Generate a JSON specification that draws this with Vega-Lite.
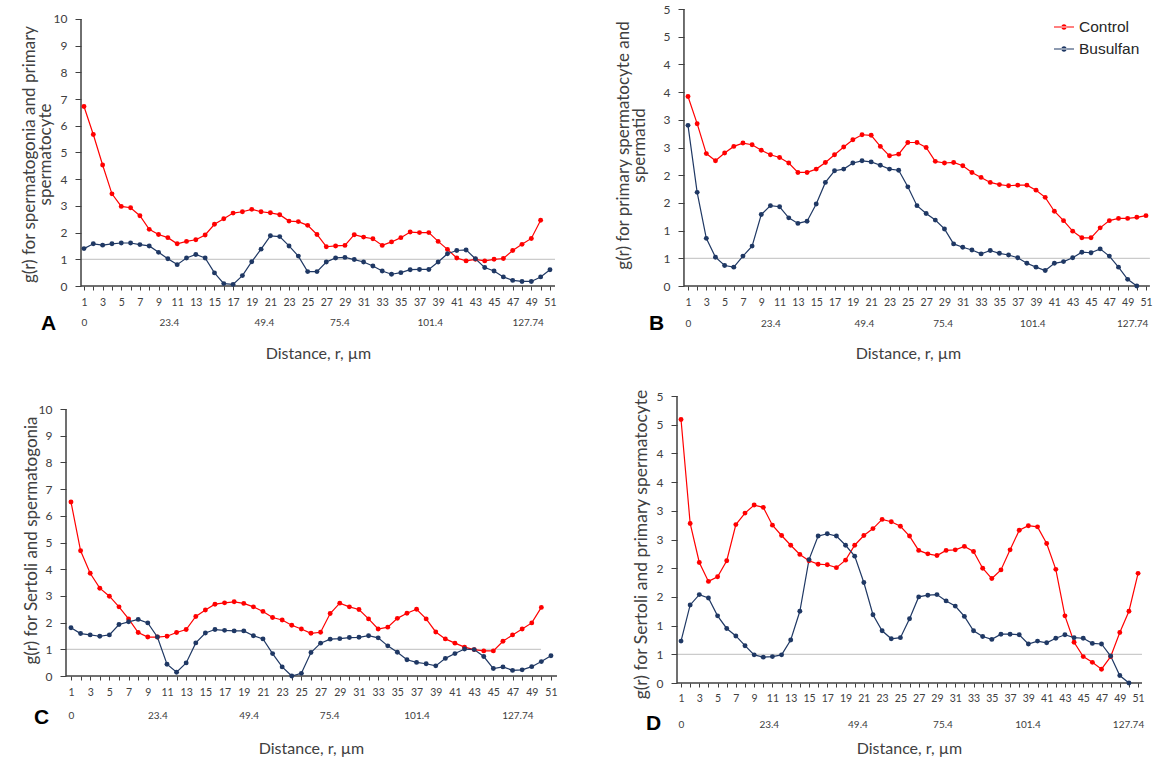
{
"$schema": "https://vega.github.io/schema/vega-lite/v6.json",
"background": "white",
"padding": {"left": 20, "top": 3, "right": 2, "bottom": 2},
"datasets": {
"A": [{"n":1,"Control":6.72,"Busulfan":1.40},{"n":2,"Control":5.67,"Busulfan":1.58},{"n":3,"Control":4.53,"Busulfan":1.53},{"n":4,"Control":3.45,"Busulfan":1.58},{"n":5,"Control":2.98,"Busulfan":1.61},{"n":6,"Control":2.93,"Busulfan":1.61},{"n":7,"Control":2.63,"Busulfan":1.55},{"n":8,"Control":2.12,"Busulfan":1.50},{"n":9,"Control":1.93,"Busulfan":1.26},{"n":10,"Control":1.81,"Busulfan":1.02},{"n":11,"Control":1.58,"Busulfan":0.80},{"n":12,"Control":1.67,"Busulfan":1.05},{"n":13,"Control":1.73,"Busulfan":1.18},{"n":14,"Control":1.91,"Busulfan":1.05},{"n":15,"Control":2.31,"Busulfan":0.49},{"n":16,"Control":2.52,"Busulfan":0.09},{"n":17,"Control":2.73,"Busulfan":0.06},{"n":18,"Control":2.78,"Busulfan":0.39},{"n":19,"Control":2.87,"Busulfan":0.91},{"n":20,"Control":2.78,"Busulfan":1.38},{"n":21,"Control":2.74,"Busulfan":1.88},{"n":22,"Control":2.67,"Busulfan":1.85},{"n":23,"Control":2.43,"Busulfan":1.50},{"n":24,"Control":2.41,"Busulfan":1.12},{"n":25,"Control":2.27,"Busulfan":0.54},{"n":26,"Control":1.93,"Busulfan":0.54},{"n":27,"Control":1.47,"Busulfan":0.90},{"n":28,"Control":1.50,"Busulfan":1.05},{"n":29,"Control":1.52,"Busulfan":1.07},{"n":30,"Control":1.92,"Busulfan":0.99},{"n":31,"Control":1.83,"Busulfan":0.90},{"n":32,"Control":1.77,"Busulfan":0.75},{"n":33,"Control":1.52,"Busulfan":0.56},{"n":34,"Control":1.65,"Busulfan":0.44},{"n":35,"Control":1.81,"Busulfan":0.50},{"n":36,"Control":2.02,"Busulfan":0.61},{"n":37,"Control":2.00,"Busulfan":0.62},{"n":38,"Control":2.00,"Busulfan":0.62},{"n":39,"Control":1.67,"Busulfan":0.90},{"n":40,"Control":1.37,"Busulfan":1.21},{"n":41,"Control":1.05,"Busulfan":1.33},{"n":42,"Control":0.94,"Busulfan":1.35},{"n":43,"Control":1.00,"Busulfan":1.02},{"n":44,"Control":0.94,"Busulfan":0.69},{"n":45,"Control":1.00,"Busulfan":0.56},{"n":46,"Control":1.03,"Busulfan":0.34},{"n":47,"Control":1.33,"Busulfan":0.21},{"n":48,"Control":1.56,"Busulfan":0.17},{"n":49,"Control":1.78,"Busulfan":0.17},{"n":50,"Control":2.46,"Busulfan":0.34},{"n":51,"Control":null,"Busulfan":0.61}],
"B": [{"n":1,"Control":3.42,"Busulfan":2.90},{"n":2,"Control":2.93,"Busulfan":1.69},{"n":3,"Control":2.39,"Busulfan":0.86},{"n":4,"Control":2.26,"Busulfan":0.52},{"n":5,"Control":2.40,"Busulfan":0.37},{"n":6,"Control":2.52,"Busulfan":0.34},{"n":7,"Control":2.58,"Busulfan":0.54},{"n":8,"Control":2.55,"Busulfan":0.72},{"n":9,"Control":2.45,"Busulfan":1.29},{"n":10,"Control":2.37,"Busulfan":1.45},{"n":11,"Control":2.32,"Busulfan":1.43},{"n":12,"Control":2.22,"Busulfan":1.23},{"n":13,"Control":2.05,"Busulfan":1.13},{"n":14,"Control":2.05,"Busulfan":1.17},{"n":15,"Control":2.11,"Busulfan":1.48},{"n":16,"Control":2.23,"Busulfan":1.87},{"n":17,"Control":2.37,"Busulfan":2.08},{"n":18,"Control":2.51,"Busulfan":2.11},{"n":19,"Control":2.64,"Busulfan":2.22},{"n":20,"Control":2.73,"Busulfan":2.26},{"n":21,"Control":2.72,"Busulfan":2.24},{"n":22,"Control":2.52,"Busulfan":2.18},{"n":23,"Control":2.35,"Busulfan":2.11},{"n":24,"Control":2.38,"Busulfan":2.09},{"n":25,"Control":2.59,"Busulfan":1.79},{"n":26,"Control":2.59,"Busulfan":1.45},{"n":27,"Control":2.50,"Busulfan":1.31},{"n":28,"Control":2.25,"Busulfan":1.19},{"n":29,"Control":2.22,"Busulfan":1.03},{"n":30,"Control":2.23,"Busulfan":0.76},{"n":31,"Control":2.17,"Busulfan":0.70},{"n":32,"Control":2.05,"Busulfan":0.65},{"n":33,"Control":1.96,"Busulfan":0.58},{"n":34,"Control":1.87,"Busulfan":0.64},{"n":35,"Control":1.83,"Busulfan":0.59},{"n":36,"Control":1.81,"Busulfan":0.56},{"n":37,"Control":1.82,"Busulfan":0.51},{"n":38,"Control":1.82,"Busulfan":0.41},{"n":39,"Control":1.73,"Busulfan":0.34},{"n":40,"Control":1.60,"Busulfan":0.28},{"n":41,"Control":1.35,"Busulfan":0.41},{"n":42,"Control":1.18,"Busulfan":0.44},{"n":43,"Control":0.99,"Busulfan":0.51},{"n":44,"Control":0.87,"Busulfan":0.61},{"n":45,"Control":0.87,"Busulfan":0.60},{"n":46,"Control":1.05,"Busulfan":0.67},{"n":47,"Control":1.18,"Busulfan":0.54},{"n":48,"Control":1.22,"Busulfan":0.34},{"n":49,"Control":1.22,"Busulfan":0.12},{"n":50,"Control":1.24,"Busulfan":0.00},{"n":51,"Control":1.27,"Busulfan":null}],
"C": [{"n":1,"Control":6.52,"Busulfan":1.81},{"n":2,"Control":4.69,"Busulfan":1.59},{"n":3,"Control":3.85,"Busulfan":1.54},{"n":4,"Control":3.29,"Busulfan":1.49},{"n":5,"Control":2.99,"Busulfan":1.54},{"n":6,"Control":2.59,"Busulfan":1.93},{"n":7,"Control":2.14,"Busulfan":2.03},{"n":8,"Control":1.63,"Busulfan":2.12},{"n":9,"Control":1.46,"Busulfan":1.99},{"n":10,"Control":1.46,"Busulfan":1.46},{"n":11,"Control":1.49,"Busulfan":0.44},{"n":12,"Control":1.63,"Busulfan":0.14},{"n":13,"Control":1.74,"Busulfan":0.49},{"n":14,"Control":2.23,"Busulfan":1.24},{"n":15,"Control":2.47,"Busulfan":1.61},{"n":16,"Control":2.69,"Busulfan":1.74},{"n":17,"Control":2.74,"Busulfan":1.71},{"n":18,"Control":2.78,"Busulfan":1.69},{"n":19,"Control":2.72,"Busulfan":1.69},{"n":20,"Control":2.59,"Busulfan":1.51},{"n":21,"Control":2.42,"Busulfan":1.39},{"n":22,"Control":2.19,"Busulfan":0.84},{"n":23,"Control":2.10,"Busulfan":0.34},{"n":24,"Control":1.90,"Busulfan":0.00},{"n":25,"Control":1.76,"Busulfan":0.10},{"n":26,"Control":1.60,"Busulfan":0.88},{"n":27,"Control":1.64,"Busulfan":1.23},{"n":28,"Control":2.34,"Busulfan":1.38},{"n":29,"Control":2.73,"Busulfan":1.40},{"n":30,"Control":2.59,"Busulfan":1.44},{"n":31,"Control":2.49,"Busulfan":1.45},{"n":32,"Control":2.14,"Busulfan":1.51},{"n":33,"Control":1.76,"Busulfan":1.43},{"n":34,"Control":1.83,"Busulfan":1.13},{"n":35,"Control":2.16,"Busulfan":0.89},{"n":36,"Control":2.35,"Busulfan":0.61},{"n":37,"Control":2.50,"Busulfan":0.51},{"n":38,"Control":2.14,"Busulfan":0.46},{"n":39,"Control":1.65,"Busulfan":0.38},{"n":40,"Control":1.39,"Busulfan":0.66},{"n":41,"Control":1.23,"Busulfan":0.84},{"n":42,"Control":1.08,"Busulfan":1.01},{"n":43,"Control":0.99,"Busulfan":0.99},{"n":44,"Control":0.94,"Busulfan":0.73},{"n":45,"Control":0.94,"Busulfan":0.28},{"n":46,"Control":1.30,"Busulfan":0.34},{"n":47,"Control":1.54,"Busulfan":0.21},{"n":48,"Control":1.76,"Busulfan":0.23},{"n":49,"Control":1.99,"Busulfan":0.35},{"n":50,"Control":2.57,"Busulfan":0.54},{"n":51,"Control":null,"Busulfan":0.76}],
"D": [{"n":1,"Control":4.59,"Busulfan":0.73},{"n":2,"Control":2.78,"Busulfan":1.36},{"n":3,"Control":2.10,"Busulfan":1.54},{"n":4,"Control":1.77,"Busulfan":1.48},{"n":5,"Control":1.85,"Busulfan":1.17},{"n":6,"Control":2.13,"Busulfan":0.95},{"n":7,"Control":2.76,"Busulfan":0.82},{"n":8,"Control":2.96,"Busulfan":0.65},{"n":9,"Control":3.10,"Busulfan":0.49},{"n":10,"Control":3.06,"Busulfan":0.45},{"n":11,"Control":2.75,"Busulfan":0.46},{"n":12,"Control":2.57,"Busulfan":0.49},{"n":13,"Control":2.40,"Busulfan":0.75},{"n":14,"Control":2.24,"Busulfan":1.25},{"n":15,"Control":2.13,"Busulfan":2.15},{"n":16,"Control":2.07,"Busulfan":2.56},{"n":17,"Control":2.06,"Busulfan":2.60},{"n":18,"Control":2.01,"Busulfan":2.56},{"n":19,"Control":2.14,"Busulfan":2.40},{"n":20,"Control":2.40,"Busulfan":2.21},{"n":21,"Control":2.57,"Busulfan":1.75},{"n":22,"Control":2.69,"Busulfan":1.19},{"n":23,"Control":2.85,"Busulfan":0.91},{"n":24,"Control":2.81,"Busulfan":0.77},{"n":25,"Control":2.73,"Busulfan":0.79},{"n":26,"Control":2.56,"Busulfan":1.12},{"n":27,"Control":2.31,"Busulfan":1.50},{"n":28,"Control":2.25,"Busulfan":1.53},{"n":29,"Control":2.22,"Busulfan":1.54},{"n":30,"Control":2.31,"Busulfan":1.43},{"n":31,"Control":2.32,"Busulfan":1.34},{"n":32,"Control":2.38,"Busulfan":1.16},{"n":33,"Control":2.29,"Busulfan":0.91},{"n":34,"Control":2.00,"Busulfan":0.81},{"n":35,"Control":1.82,"Busulfan":0.76},{"n":36,"Control":1.97,"Busulfan":0.85},{"n":37,"Control":2.32,"Busulfan":0.85},{"n":38,"Control":2.66,"Busulfan":0.84},{"n":39,"Control":2.74,"Busulfan":0.68},{"n":40,"Control":2.72,"Busulfan":0.73},{"n":41,"Control":2.43,"Busulfan":0.70},{"n":42,"Control":1.98,"Busulfan":0.78},{"n":43,"Control":1.17,"Busulfan":0.84},{"n":44,"Control":0.71,"Busulfan":0.79},{"n":45,"Control":0.46,"Busulfan":0.78},{"n":46,"Control":0.36,"Busulfan":0.69},{"n":47,"Control":0.24,"Busulfan":0.68},{"n":48,"Control":0.46,"Busulfan":0.47},{"n":49,"Control":0.88,"Busulfan":0.13},{"n":50,"Control":1.25,"Busulfan":0.00},{"n":51,"Control":1.91,"Busulfan":null}]
},
"concat": [
{
"width": 489, "height": 277,
"layer": [
{"layer": [
{"data": {"values": [{}]}, "mark": {"type": "rule", "color": "#BFBFBF", "strokeWidth": 1}, "encoding": {"x": {"datum": 0.68, "type": "quantitative"}, "x2": {"datum": 51.54}, "y": {"datum": 1, "type": "quantitative"}}},
{"data": {"values": [{}]}, "mark": {"type": "rule", "color": "#404040", "strokeWidth": 1.5}, "encoding": {"x": {"datum": 0.68, "type": "quantitative"}, "y": {"datum": 0, "type": "quantitative"}, "y2": {"datum": 10}}},
{"data": {"values": [{}]}, "mark": {"type": "rule", "color": "#404040", "strokeWidth": 1.5}, "encoding": {"x": {"datum": 0.68, "type": "quantitative"}, "x2": {"datum": 51.54}, "y": {"datum": 0, "type": "quantitative"}}},
{"data": {"name": "A"}, "transform": [{"fold": ["Control", "Busulfan"], "as": ["series", "g"]}, {"filter": "datum.series == 'Control' && isValid(datum.g)"}], "mark": {"type": "line", "color": "#FF0000", "strokeWidth": 1.2},
 "encoding": {
  "x": {"field": "n", "type": "quantitative", "scale": {"domain": [-0.93, 51.54], "nice": false, "zero": false},
   "axis": {"values": [1,2,3,4,5,6,7,8,9,10,11,12,13,14,15,16,17,18,19,20,21,22,23,24,25,26,27,28,29,30,31,32,33,34,35,36,37,38,39,40,41,42,43,44,45,46,47,48,49,50,51], "tickCount": 200, "labelExpr": "datum.value % 2 == 1 ? '' + datum.value : ''", "tickSize": 4, "labelPadding": 7, "labelFontSize": 10.5, "labelOverlap": false, "labelFlush": false, "domain": false, "grid": false,
    "title": "Distance, r, µm", "titleX": 252, "titleY": 67, "titleAlign": "center", "titleBaseline": "middle", "titleFontSize": 16}},
  "y": {"field": "g", "type": "quantitative", "scale": {"domain": [0, 10.37], "nice": false, "zero": true},
   "axis": {"values": [0,1,2,3,4,5,6,7,8,9,10], "tickCount": 200, "labelExpr": "'' + datum.value", "offset": -15, "labelOverlap": false, "domain": false, "grid": false, "tickSize": 6, "labelPadding": 8, "labelFontSize": 12,
    "title": ["g(r) for spermatogonia and primary", "spermatocyte"], "titleX": -60, "titleY": 145, "titleAlign": "center", "titleBaseline": "top", "titleFontSize": 17, "titleLineHeight": 16}}}},
{"data": {"name": "A"}, "transform": [{"fold": ["Control", "Busulfan"], "as": ["series", "g"]}, {"filter": "datum.series == 'Busulfan' && isValid(datum.g)"}], "mark": {"type": "line", "color": "#1F3864", "strokeWidth": 1.2},
 "encoding": {"x": {"field": "n", "type": "quantitative"}, "y": {"field": "g", "type": "quantitative"}}},
{"data": {"name": "A"}, "transform": [{"fold": ["Control", "Busulfan"], "as": ["series", "g"]}, {"filter": "isValid(datum.g)"}], "mark": {"type": "point", "filled": true, "size": 24, "opacity": 1},
 "encoding": {"x": {"field": "n", "type": "quantitative"}, "y": {"field": "g", "type": "quantitative"},
  "color": {"field": "series", "type": "nominal", "scale": {"domain": ["Control", "Busulfan"], "range": ["#FF0000", "#1F3864"]}, "legend": null}}}
]},
{"data": {"values": [{"p": 1}, {"p": 10.1}, {"p": 20.3}, {"p": 28.4}, {"p": 38.1}, {"p": 48.6}]}, "mark": {"type": "point", "opacity": 0},
 "encoding": {"x": {"field": "p", "type": "quantitative", "scale": {"domain": [-0.93, 51.54], "nice": false, "zero": false},
   "axis": {"orient": "bottom", "values": [1, 10.1, 20.3, 28.4, 38.1, 48.6], "tickCount": 200, "labelExpr": "datum.value < 5 ? '0' : datum.value < 15 ? '23.4' : datum.value < 25 ? '49.4' : datum.value < 33 ? '75.4' : datum.value < 44 ? '101.4' : '127.74'", "ticks": false, "domain": false, "grid": false, "labelPadding": 31, "labelFontSize": 10, "labelOverlap": false, "labelFlush": false,
    "title": "A", "titleX": -18, "titleY": 37, "titleAlign": "center", "titleBaseline": "middle", "titleFontSize": 21, "titleFontWeight": "bold", "titleColor": "#000000", "titleFont": "Liberation Sans"}},
  "y": {"datum": 0, "type": "quantitative"}}}
],
"resolve": {"scale": {"x": "independent"}}
},
{
"width": 473, "height": 277,
"layer": [
{"layer": [
{"data": {"values": [{}]}, "mark": {"type": "rule", "color": "#BFBFBF", "strokeWidth": 1}, "encoding": {"x": {"datum": 0.56, "type": "quantitative"}, "x2": {"datum": 51.43}, "y": {"datum": 0.5, "type": "quantitative"}}},
{"data": {"values": [{}]}, "mark": {"type": "rule", "color": "#404040", "strokeWidth": 1.5}, "encoding": {"x": {"datum": 0.56, "type": "quantitative"}, "y": {"datum": 0, "type": "quantitative"}, "y2": {"datum": 5}}},
{"data": {"values": [{}]}, "mark": {"type": "rule", "color": "#404040", "strokeWidth": 1.5}, "encoding": {"x": {"datum": 0.56, "type": "quantitative"}, "x2": {"datum": 51.43}, "y": {"datum": 0, "type": "quantitative"}}},
{"data": {"name": "B"}, "transform": [{"fold": ["Control", "Busulfan"], "as": ["series", "g"]}, {"filter": "datum.series == 'Control' && isValid(datum.g)"}], "mark": {"type": "line", "color": "#FF0000", "strokeWidth": 1.2},
 "encoding": {
  "x": {"field": "n", "type": "quantitative", "scale": {"domain": [-0.20, 51.44], "nice": false, "zero": false},
   "axis": {"values": [1,2,3,4,5,6,7,8,9,10,11,12,13,14,15,16,17,18,19,20,21,22,23,24,25,26,27,28,29,30,31,32,33,34,35,36,37,38,39,40,41,42,43,44,45,46,47,48,49,50,51], "tickCount": 200, "labelExpr": "datum.value % 2 == 1 ? '' + datum.value : ''", "tickSize": 4, "labelPadding": 7, "labelFontSize": 10.5, "labelOverlap": false, "labelFlush": false, "domain": false, "grid": false,
    "title": "Distance, r, µm", "titleX": 231, "titleY": 67, "titleAlign": "center", "titleBaseline": "middle", "titleFontSize": 16}},
  "y": {"field": "g", "type": "quantitative", "scale": {"domain": [0, 5], "nice": false, "zero": true},
   "axis": {"values": [0,0.5,1,1.5,2,2.5,3,3.5,4,4.5,5], "tickCount": 200, "labelExpr": "'' + round(datum.value)", "offset": -7, "labelOverlap": false, "domain": false, "grid": false, "tickSize": 6, "labelPadding": 8, "labelFontSize": 12,
    "title": ["g(r) for primary spermatocyte and", "spermatid"], "titleX": -69, "titleY": 136, "titleAlign": "center", "titleBaseline": "top", "titleFontSize": 17, "titleLineHeight": 16}}}},
{"data": {"name": "B"}, "transform": [{"fold": ["Control", "Busulfan"], "as": ["series", "g"]}, {"filter": "datum.series == 'Busulfan' && isValid(datum.g)"}], "mark": {"type": "line", "color": "#1F3864", "strokeWidth": 1.2},
 "encoding": {"x": {"field": "n", "type": "quantitative"}, "y": {"field": "g", "type": "quantitative"}}},
{"data": {"name": "B"}, "transform": [{"fold": ["Control", "Busulfan"], "as": ["series", "g"]}, {"filter": "isValid(datum.g)"}], "mark": {"type": "point", "filled": true, "size": 24, "opacity": 1},
 "encoding": {"x": {"field": "n", "type": "quantitative"}, "y": {"field": "g", "type": "quantitative"},
  "color": {"field": "series", "type": "nominal", "scale": {"domain": ["Control", "Busulfan"], "range": ["#FF0000", "#1F3864"]},
   "legend": {"orient": "none", "legendX": 377, "legendY": 8, "title": null, "padding": 0, "symbolType": "M-1,-0.06H1V0.06H-1Z M-0.27,0A0.27,0.27,0,1,0,0.27,0A0.27,0.27,0,1,0,-0.27,0Z", "symbolSize": 400, "symbolStrokeWidth": 0, "symbolOpacity": 1, "labelFont": "Liberation Sans", "labelFontSize": 15.5, "labelColor": "#262626", "labelOffset": 5, "rowPadding": 3}}}}
]},
{"data": {"values": [{"p": 1}, {"p": 10.0}, {"p": 20.2}, {"p": 28.8}, {"p": 38.6}, {"p": 49.5}]}, "mark": {"type": "point", "opacity": 0},
 "encoding": {"x": {"field": "p", "type": "quantitative", "scale": {"domain": [-0.20, 51.44], "nice": false, "zero": false},
   "axis": {"orient": "bottom", "values": [1, 10.0, 20.2, 28.8, 38.6, 49.5], "tickCount": 200, "labelExpr": "datum.value < 5 ? '0' : datum.value < 15 ? '23.4' : datum.value < 25 ? '49.4' : datum.value < 33 ? '75.4' : datum.value < 44 ? '101.4' : '127.74'", "ticks": false, "domain": false, "grid": false, "labelPadding": 32, "labelFontSize": 10, "labelOverlap": false, "labelFlush": false,
    "title": "B", "titleX": -21, "titleY": 37, "titleAlign": "center", "titleBaseline": "middle", "titleFontSize": 21, "titleFontWeight": "bold", "titleColor": "#000000", "titleFont": "Liberation Sans"}},
  "y": {"datum": 0, "type": "quantitative"}}}
],
"resolve": {"scale": {"x": "independent"}}
},
{
"width": 491, "height": 280,
"layer": [
{"layer": [
{"data": {"values": [{}]}, "mark": {"type": "rule", "color": "#BFBFBF", "strokeWidth": 1}, "encoding": {"x": {"datum": 0.48, "type": "quantitative"}, "x2": {"datum": 49.96}, "y": {"datum": 1, "type": "quantitative"}}},
{"data": {"values": [{}]}, "mark": {"type": "rule", "color": "#404040", "strokeWidth": 1.5}, "encoding": {"x": {"datum": 0.48, "type": "quantitative"}, "y": {"datum": 0, "type": "quantitative"}, "y2": {"datum": 10}}},
{"data": {"values": [{}]}, "mark": {"type": "rule", "color": "#404040", "strokeWidth": 1.5}, "encoding": {"x": {"datum": 0.48, "type": "quantitative"}, "x2": {"datum": 51.63}, "y": {"datum": 0, "type": "quantitative"}}},
{"data": {"name": "C"}, "transform": [{"fold": ["Control", "Busulfan"], "as": ["series", "g"]}, {"filter": "datum.series == 'Control' && isValid(datum.g)"}], "mark": {"type": "line", "color": "#FF0000", "strokeWidth": 1.2},
 "encoding": {
  "x": {"field": "n", "type": "quantitative", "scale": {"domain": [0.48, 51.63], "nice": false, "zero": false},
   "axis": {"values": [1,2,3,4,5,6,7,8,9,10,11,12,13,14,15,16,17,18,19,20,21,22,23,24,25,26,27,28,29,30,31,32,33,34,35,36,37,38,39,40,41,42,43,44,45,46,47,48,49,50,51], "tickCount": 200, "labelExpr": "datum.value % 2 == 1 ? '' + datum.value : ''", "tickSize": 4, "labelPadding": 7, "labelFontSize": 10.5, "labelOverlap": false, "labelFlush": false, "domain": false, "grid": false,
    "title": "Distance, r, µm", "titleX": 245, "titleY": 72, "titleAlign": "center", "titleBaseline": "middle", "titleFontSize": 16}},
  "y": {"field": "g", "type": "quantitative", "scale": {"domain": [0, 10.49], "nice": false, "zero": true},
   "axis": {"values": [0,1,2,3,4,5,6,7,8,9,10], "tickCount": 200, "labelExpr": "'' + datum.value", "labelOverlap": false, "domain": false, "grid": false, "tickSize": 6, "labelPadding": 8, "labelFontSize": 12,
    "title": "g(r) for Sertoli and spermatogonia", "titleX": -43, "titleY": 144, "titleAlign": "center", "titleBaseline": "top", "titleFontSize": 17}}}},
{"data": {"name": "C"}, "transform": [{"fold": ["Control", "Busulfan"], "as": ["series", "g"]}, {"filter": "datum.series == 'Busulfan' && isValid(datum.g)"}], "mark": {"type": "line", "color": "#1F3864", "strokeWidth": 1.2},
 "encoding": {"x": {"field": "n", "type": "quantitative"}, "y": {"field": "g", "type": "quantitative"}}},
{"data": {"name": "C"}, "transform": [{"fold": ["Control", "Busulfan"], "as": ["series", "g"]}, {"filter": "isValid(datum.g)"}], "mark": {"type": "point", "filled": true, "size": 24, "opacity": 1},
 "encoding": {"x": {"field": "n", "type": "quantitative"}, "y": {"field": "g", "type": "quantitative"},
  "color": {"field": "series", "type": "nominal", "scale": {"domain": ["Control", "Busulfan"], "range": ["#FF0000", "#1F3864"]}, "legend": null}}}
]},
{"data": {"values": [{"p": 1}, {"p": 10.0}, {"p": 19.5}, {"p": 27.9}, {"p": 37.0}, {"p": 47.5}]}, "mark": {"type": "point", "opacity": 0},
 "encoding": {"x": {"field": "p", "type": "quantitative", "scale": {"domain": [0.48, 51.63], "nice": false, "zero": false},
   "axis": {"orient": "bottom", "values": [1, 10.0, 19.5, 27.9, 37.0, 47.5], "tickCount": 200, "labelExpr": "datum.value < 5 ? '0' : datum.value < 15 ? '23.4' : datum.value < 25 ? '49.4' : datum.value < 33 ? '75.4' : datum.value < 44 ? '101.4' : '127.74'", "ticks": false, "domain": false, "grid": false, "labelPadding": 34, "labelFontSize": 10, "labelOverlap": false, "labelFlush": false,
    "title": "C", "titleX": -25, "titleY": 41, "titleAlign": "center", "titleBaseline": "middle", "titleFontSize": 21, "titleFontWeight": "bold", "titleColor": "#000000", "titleFont": "Liberation Sans"}},
  "y": {"datum": 0, "type": "quantitative"}}}
],
"resolve": {"scale": {"x": "independent"}}
},
{
"width": 465, "height": 287,
"layer": [
{"layer": [
{"data": {"values": [{}]}, "mark": {"type": "rule", "color": "#BFBFBF", "strokeWidth": 1}, "encoding": {"x": {"datum": 0.56, "type": "quantitative"}, "x2": {"datum": 51.43}, "y": {"datum": 0.5, "type": "quantitative"}}},
{"data": {"values": [{}]}, "mark": {"type": "rule", "color": "#404040", "strokeWidth": 1.5}, "encoding": {"x": {"datum": 0.56, "type": "quantitative"}, "y": {"datum": 0, "type": "quantitative"}, "y2": {"datum": 5}}},
{"data": {"values": [{}]}, "mark": {"type": "rule", "color": "#404040", "strokeWidth": 1.5}, "encoding": {"x": {"datum": 0.56, "type": "quantitative"}, "x2": {"datum": 51.43}, "y": {"datum": 0, "type": "quantitative"}}},
{"data": {"name": "D"}, "transform": [{"fold": ["Control", "Busulfan"], "as": ["series", "g"]}, {"filter": "datum.series == 'Control' && isValid(datum.g)"}], "mark": {"type": "line", "color": "#FF0000", "strokeWidth": 1.2},
 "encoding": {
  "x": {"field": "n", "type": "quantitative", "scale": {"domain": [0.56, 51.43], "nice": false, "zero": false},
   "axis": {"values": [1,2,3,4,5,6,7,8,9,10,11,12,13,14,15,16,17,18,19,20,21,22,23,24,25,26,27,28,29,30,31,32,33,34,35,36,37,38,39,40,41,42,43,44,45,46,47,48,49,50,51], "tickCount": 200, "labelExpr": "datum.value % 2 == 1 ? '' + datum.value : ''", "tickSize": 4, "labelPadding": 6, "labelFontSize": 10.5, "labelOverlap": false, "labelFlush": false, "domain": false, "grid": false,
    "title": "Distance, r, µm", "titleX": 232, "titleY": 65, "titleAlign": "center", "titleBaseline": "middle", "titleFontSize": 16}},
  "y": {"field": "g", "type": "quantitative", "scale": {"domain": [0, 5], "nice": false, "zero": true},
   "axis": {"values": [0,0.5,1,1.5,2,2.5,3,3.5,4,4.5,5], "tickCount": 200, "labelExpr": "'' + round(datum.value)", "labelOverlap": false, "domain": false, "grid": false, "tickSize": 6, "labelPadding": 8, "labelFontSize": 12,
    "title": "g(r) for Sertoli and primary spermatocyte", "titleX": -45, "titleY": 148, "titleAlign": "center", "titleBaseline": "top", "titleFontSize": 17.5}}}},
{"data": {"name": "D"}, "transform": [{"fold": ["Control", "Busulfan"], "as": ["series", "g"]}, {"filter": "datum.series == 'Busulfan' && isValid(datum.g)"}], "mark": {"type": "line", "color": "#1F3864", "strokeWidth": 1.2},
 "encoding": {"x": {"field": "n", "type": "quantitative"}, "y": {"field": "g", "type": "quantitative"}}},
{"data": {"name": "D"}, "transform": [{"fold": ["Control", "Busulfan"], "as": ["series", "g"]}, {"filter": "isValid(datum.g)"}], "mark": {"type": "point", "filled": true, "size": 24, "opacity": 1},
 "encoding": {"x": {"field": "n", "type": "quantitative"}, "y": {"field": "g", "type": "quantitative"},
  "color": {"field": "series", "type": "nominal", "scale": {"domain": ["Control", "Busulfan"], "range": ["#FF0000", "#1F3864"]}, "legend": null}}}
]},
{"data": {"values": [{"p": 1}, {"p": 10.6}, {"p": 20.3}, {"p": 29.6}, {"p": 38.9}, {"p": 49.9}]}, "mark": {"type": "point", "opacity": 0},
 "encoding": {"x": {"field": "p", "type": "quantitative", "scale": {"domain": [0.56, 51.43], "nice": false, "zero": false},
   "axis": {"orient": "bottom", "values": [1, 10.6, 20.3, 29.6, 38.9, 49.9], "tickCount": 200, "labelExpr": "datum.value < 5 ? '0' : datum.value < 15 ? '23.4' : datum.value < 25 ? '49.4' : datum.value < 33 ? '75.4' : datum.value < 44 ? '101.4' : '127.74'", "ticks": false, "domain": false, "grid": false, "labelPadding": 36, "labelFontSize": 10, "labelOverlap": false, "labelFlush": false,
    "title": "D", "titleX": -24, "titleY": 40, "titleAlign": "center", "titleBaseline": "middle", "titleFontSize": 21, "titleFontWeight": "bold", "titleColor": "#000000", "titleFont": "Liberation Sans"}},
  "y": {"datum": 0, "type": "quantitative"}}}
],
"resolve": {"scale": {"x": "independent"}}
}
],
"columns": 2,
"spacing": {"row": 110, "column": 120},
"bounds": "flush",
"resolve": {"scale": {"color": "independent"}, "legend": {"color": "independent"}},
"config": {
 "view": {"stroke": null},
 "font": "Lato",
 "axis": {"labelFont": "Lato", "titleFont": "Lato", "labelColor": "#404040", "titleColor": "#404040", "tickColor": "#404040", "tickWidth": 1, "titleFontWeight": "normal", "labelOverlap": false}
}
}
